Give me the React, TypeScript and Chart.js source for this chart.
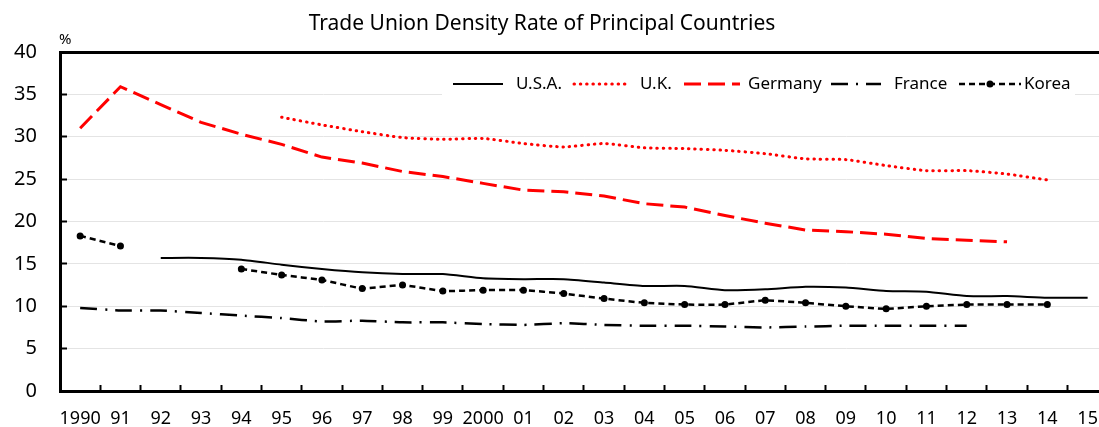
import React, { useEffect, useRef } from "react";
import { Chart, registerables } from "chart.js";

Chart.register(...registerables);

const TITLE = "Trade Union Density Rate of Principal Countries";
const UNIT = "%";

const years = [
  "1990", "91", "92", "93", "94", "95", "96", "97", "98", "99",
  "2000", "01", "02", "03", "04", "05", "06", "07", "08", "09",
  "10", "11", "12", "13", "14", "15",
];

const usa = [null, null, 15.7, 15.7, 15.5, 14.9, 14.4, 14.0, 13.8, 13.8, 13.3, 13.2, 13.2, 12.8, 12.4, 12.4, 11.9, 12.0, 12.3, 12.2, 11.8, 11.7, 11.2, 11.2, 11.0, 11.0];
const uk = [null, null, null, null, null, 32.3, 31.4, 30.6, 29.9, 29.7, 29.8, 29.2, 28.8, 29.2, 28.7, 28.6, 28.4, 28.0, 27.4, 27.3, 26.6, 26.0, 26.0, 25.6, 24.9, null];
const germany = [31.0, 35.9, 33.8, 31.7, 30.3, 29.1, 27.6, 26.9, 25.9, 25.3, 24.5, 23.7, 23.5, 23.0, 22.1, 21.7, 20.7, 19.8, 19.0, 18.8, 18.5, 18.0, 17.8, 17.6, null, null];
const france = [9.8, 9.5, 9.5, 9.2, 8.9, 8.6, 8.2, 8.3, 8.1, 8.1, 7.9, 7.8, 8.0, 7.8, 7.7, 7.7, 7.6, 7.5, 7.6, 7.7, 7.7, 7.7, 7.7, null, null, null];
const korea = [18.3, 17.1, null, null, 14.4, 13.7, 13.1, 12.1, 12.5, 11.8, 11.9, 11.9, 11.5, 10.9, 10.4, 10.2, 10.2, 10.7, 10.4, 10.0, 9.7, 10.0, 10.2, 10.2, 10.2, null];

const seriesNames = ["U.S.A.", "U.K.", "Germany", "France", "Korea"];

const FONT = "Noto Sans";

// layout (pixels)
const TITLE_X = 542;
const TITLE_Y = 24;
const LEG_Y = 84;
const LEG_LINE_X = [453, 574, 684, 831, 959];
const LEG_LINE_LEN = [50, 52, 56, 50, 62];
const LEG_TEXT_X = [516, 640, 748, 894, 1024];

const customText = {
  id: "customText",
  afterDraw(chart: any) {
    const ctx = chart.ctx;
    ctx.save();
    // title
    ctx.fillStyle = "#000";
    ctx.font = `21px "${FONT}"`;
    ctx.textAlign = "center";
    ctx.textBaseline = "middle";
    ctx.fillText(TITLE, TITLE_X, TITLE_Y);
    // legend
    ctx.fillStyle = "#fff";
    ctx.fillRect(442, 70, 633, 28);
    chart.data.datasets.forEach((ds: any, i: number) => {
      const x0 = LEG_LINE_X[i];
      const len = LEG_LINE_LEN[i];
      ctx.strokeStyle = ds.borderColor;
      ctx.lineWidth = ds.borderWidth;
      ctx.lineCap = ds.borderCapStyle || "butt";
      ctx.setLineDash(ds.borderDash || []);
      ctx.beginPath();
      ctx.moveTo(x0, LEG_Y);
      ctx.lineTo(x0 + len, LEG_Y);
      ctx.stroke();
      ctx.setLineDash([]);
      if (ds.pointRadius > 0) {
        ctx.fillStyle = ds.pointBackgroundColor;
        ctx.beginPath();
        ctx.arc(x0 + len / 2, LEG_Y, ds.pointRadius, 0, Math.PI * 2);
        ctx.fill();
      }
      ctx.fillStyle = "#000";
      ctx.font = `17px "${FONT}"`;
      ctx.textBaseline = "middle";
      ctx.textAlign = "left";
      ctx.fillText(ds.label, LEG_TEXT_X[i], LEG_Y);
    });
    // unit
    ctx.fillStyle = "#000";
    ctx.font = `15px "${FONT}"`;
    ctx.textAlign = "left";
    ctx.textBaseline = "alphabetic";
    ctx.fillText(UNIT, 59, 44);
    ctx.restore();
  },
};

export default function App() {
  const ref = useRef<HTMLCanvasElement | null>(null);

  useEffect(() => {
    if (!ref.current) return;
    const chart = new Chart(ref.current, {
      type: "line",
      data: {
        labels: years,
        datasets: [
          {
            label: seriesNames[0],
            data: usa,
            borderColor: "#000",
            borderWidth: 2,
            pointRadius: 0,
            tension: 0.2,
          },
          {
            label: seriesNames[1],
            data: uk,
            borderColor: "#ff0000",
            borderWidth: 3,
            borderDash: [0.5, 5.8],
            borderCapStyle: "round",
            pointRadius: 0,
            tension: 0.2,
          },
          {
            label: seriesNames[2],
            data: germany,
            borderColor: "#ff0000",
            borderWidth: 3,
            borderDash: [17, 7],
            pointRadius: 0,
            tension: 0,
          },
          {
            label: seriesNames[3],
            data: france,
            borderColor: "#000",
            borderWidth: 2.5,
            borderDash: [17, 8, 2, 8],
            pointRadius: 0,
            tension: 0.15,
          },
          {
            label: seriesNames[4],
            data: korea,
            borderColor: "#000",
            borderWidth: 2.5,
            borderDash: [6, 4],
            pointRadius: 3.5,
            pointBackgroundColor: "#000",
            pointBorderWidth: 0,
            tension: 0.1,
          },
        ] as any,
      },
      options: {
        responsive: false,
        maintainAspectRatio: false,
        animation: false,
        layout: { padding: { top: 52, left: 0, right: 0, bottom: 0 } },
        plugins: {
          legend: { display: false },
          tooltip: { enabled: false },
          title: { display: false },
        },
        scales: {
          x: {
            type: "category",
            offset: true,
            grid: {
              display: true,
              offset: true,
              drawOnChartArea: false,
              drawTicks: true,
              tickLength: -6,
              tickColor: "#000",
              tickWidth: 2,
            },
            border: { display: true, color: "#000", width: 3 },
            ticks: {
              color: "#000",
              font: { family: FONT, size: 18 },
              padding: 23,
              maxRotation: 0,
              autoSkip: false,
            },
            afterFit: (s: any) => {
              s.height = 37;
            },
          },
          y: {
            min: 0,
            max: 40,
            ticks: {
              stepSize: 5,
              color: "#000",
              font: { family: FONT, size: 20 },
              padding: 30,
            },
            grid: {
              color: (c: any) => (c.tick && c.tick.value === 40 ? "#000" : "#e4e4e4"),
              lineWidth: (c: any) => (c.tick && c.tick.value === 40 ? 3 : 1),
              tickLength: -7,
              tickColor: "#000",
              tickWidth: 2,
            },
            border: { display: true, color: "#000", width: 3 },
            afterFit: (s: any) => {
              s.width = 60;
            },
          },
        } as any,
      },
      plugins: [customText],
    });
    return () => chart.destroy();
  }, []);

  return (
    <div
      style={{
        position: "absolute",
        left: 0,
        top: 0,
        width: 1099,
        height: 427,
        overflow: "hidden",
        background: "#fff",
      }}
    >
      <div style={{ width: 1121, height: 433 }}>
        <canvas ref={ref} width={1121} height={433} style={{ display: "block", width: 1121, height: 433 }} />
      </div>
    </div>
  );
}
